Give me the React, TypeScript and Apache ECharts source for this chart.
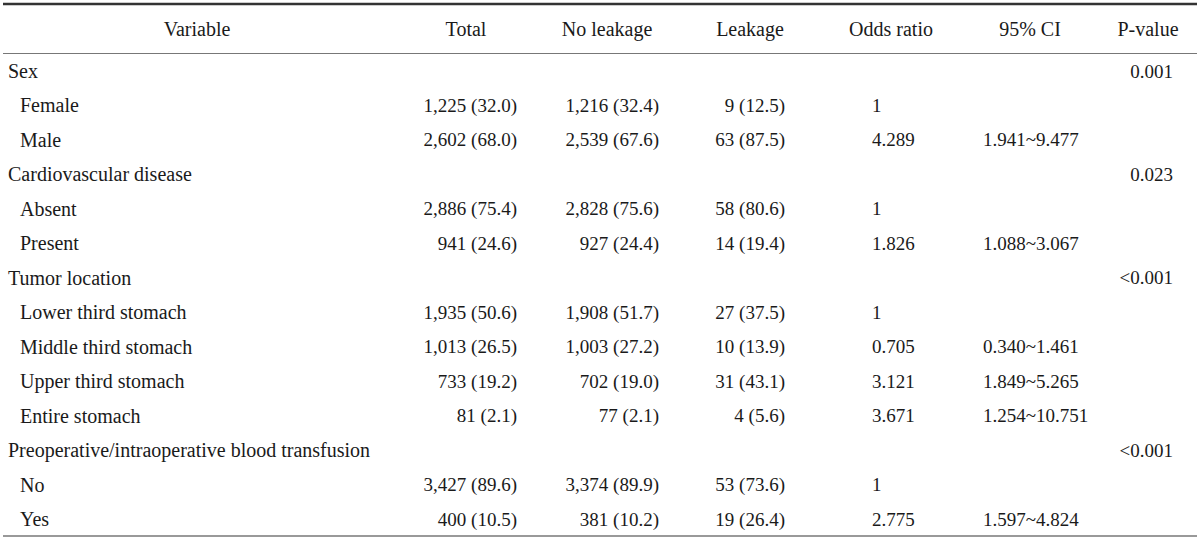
import React, { useEffect, useRef } from "react";
import * as echarts from "echarts";

const headers = ["Variable", "Total", "No leakage", "Leakage", "Odds ratio", "95% CI", "P-value"];
const labels = [
  "Sex", "Female", "Male",
  "Cardiovascular disease", "Absent", "Present",
  "Tumor location", "Lower third stomach", "Middle third stomach", "Upper third stomach", "Entire stomach",
  "Preoperative/intraoperative blood transfusion", "No", "Yes",
];
const indent = [0, 1, 1, 0, 1, 1, 0, 1, 1, 1, 1, 0, 1, 1];
const totals = ["", "1,225 (32.0)", "2,602 (68.0)", "", "2,886 (75.4)", "941 (24.6)", "", "1,935 (50.6)", "1,013 (26.5)", "733 (19.2)", "81 (2.1)", "", "3,427 (89.6)", "400 (10.5)"];
const noLeakage = ["", "1,216 (32.4)", "2,539 (67.6)", "", "2,828 (75.6)", "927 (24.4)", "", "1,908 (51.7)", "1,003 (27.2)", "702 (19.0)", "77 (2.1)", "", "3,374 (89.9)", "381 (10.2)"];
const leakage = ["", "9 (12.5)", "63 (87.5)", "", "58 (80.6)", "14 (19.4)", "", "27 (37.5)", "10 (13.9)", "31 (43.1)", "4 (5.6)", "", "53 (73.6)", "19 (26.4)"];
const oddsRatio = ["", "1", "4.289", "", "1", "1.826", "", "1", "0.705", "3.121", "3.671", "", "1", "2.775"];
const ci95 = ["", "", "1.941~9.477", "", "", "1.088~3.067", "", "", "0.340~1.461", "1.849~5.265", "1.254~10.751", "", "", "1.597~4.824"];
const pValues = ["0.001", "", "", "0.023", "", "", "<0.001", "", "", "", "", "<0.001", "", ""];

const FONT = "'Liberation Serif', 'DejaVu Serif', serif";
const FS_TEXT = 20;
const FS_NUM = 19;
const COLOR = "#1a1a1a";

export default function App() {
  const ref = useRef<HTMLDivElement>(null);
  useEffect(() => {
    if (!ref.current) return;
    const chart = echarts.init(ref.current, null, { renderer: "svg" });
    const headerX = [197, 466, 607, 750, 891, 1030, 1148];
    const rowY0 = 71;
    const rowStep = (519 - 71) / 13;
    const cols: { data: string[]; x: number; align: "left" | "right" }[] = [
      { data: totals, x: 517, align: "right" },
      { data: noLeakage, x: 659, align: "right" },
      { data: leakage, x: 785, align: "right" },
      { data: oddsRatio, x: 872, align: "left" },
      { data: ci95, x: 983, align: "left" },
      { data: pValues, x: 1173, align: "right" },
    ];
    const els: any[] = [];
    const txt = (x: number, y: number, s: string, align: string, fs: number) => ({
      type: "text",
      x,
      y,
      style: { text: s, fill: COLOR, font: `${fs}px ${FONT}`, align, verticalAlign: "middle" },
    });
    headers.forEach((h, i) => els.push(txt(headerX[i], 29, h, "center", FS_TEXT)));
    labels.forEach((l, i) => {
      const y = rowY0 + i * rowStep;
      els.push(txt(indent[i] ? 20 : 8, y, l, "left", FS_TEXT));
      cols.forEach((c) => {
        if (c.data[i]) els.push(txt(c.x, y, c.data[i], c.align, FS_NUM));
      });
    });
    els.push({ type: "line", shape: { x1: 3, y1: 4, x2: 1197, y2: 4 }, style: { stroke: "#333", lineWidth: 2.5 } });
    els.push({ type: "line", shape: { x1: 3, y1: 53.5, x2: 1197, y2: 53.5 }, style: { stroke: "#777", lineWidth: 1 } });
    els.push({ type: "line", shape: { x1: 3, y1: 536, x2: 1197, y2: 536 }, style: { stroke: "#999", lineWidth: 2 } });
    chart.setOption({ animation: false, backgroundColor: "#fff", graphic: { elements: els } });
    return () => chart.dispose();
  }, []);
  return <div ref={ref} style={{ position: "absolute", left: 0, top: 0, width: 1200, height: 539 }} />;
}
